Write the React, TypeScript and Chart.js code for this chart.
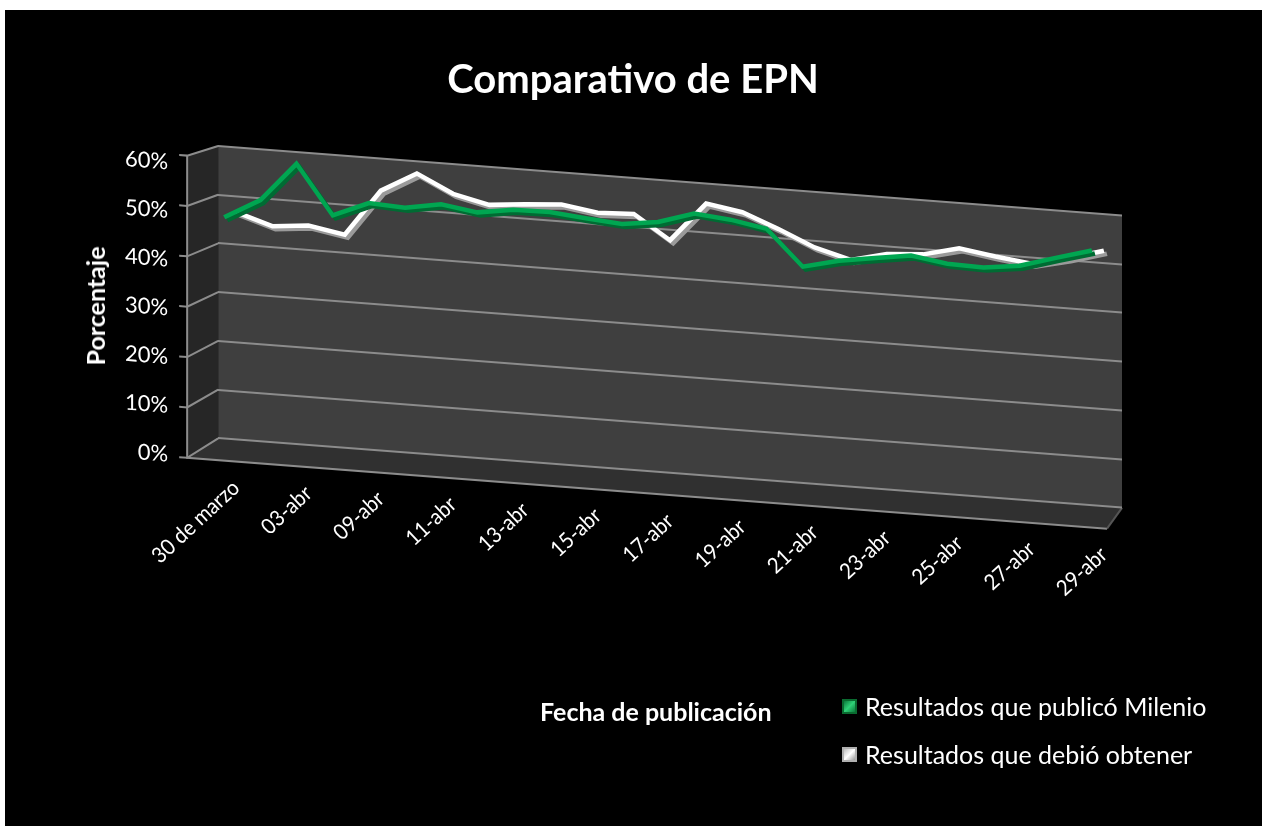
import React, { useEffect, useRef } from 'react';
import { Chart, registerables } from 'chart.js';

Chart.register(...registerables);

// ---------- data ----------
const categories = [
  '30 de marzo', '02-abr', '03-abr', '05-abr', '09-abr', '10-abr', '11-abr', '12-abr',
  '13-abr', '14-abr', '15-abr', '16-abr', '17-abr', '18-abr', '19-abr', '20-abr',
  '21-abr', '22-abr', '23-abr', '24-abr', '25-abr', '26-abr', '27-abr', '28-abr', '29-abr',
];

const milenio = [
  46.5, 50.6, 58.6, 48.6, 51.7, 51.3, 52.6, 51.5, 52.6, 52.7, 52.0, 51.4, 52.4,
  54.7, 54.0, 52.7, 45.5, 47.3, 48.4, 49.5, 48.4, 48.2, 49.1, 51.3, 53.4,
];

const debio = [
  46.7, 44.4, 45.1, 43.8, 53.4, 57.5, 53.9, 52.2, 52.9, 53.4, 52.3, 52.6, 47.8,
  55.9, 54.7, 51.8, 48.6, 46.6, 48.4, 48.9, 50.7, 49.6, 48.7, 50.4, 52.5,
];

const seriesNames = ['Resultados que publicó Milenio', 'Resultados que debió obtener'];
const seriesColors = ['#00a651', '#ffffff'];
const seriesSideColors = ['#006b33', '#9a9a9a'];

const yTicks = [0, 10, 20, 30, 40, 50, 60];
const yMin = -4.5;
const yMax = 60;

const FONT = 'Lato, "Open Sans", sans-serif';
const SKEW = 0.077;

// ---------- plugins ----------
const wallPlugin = {
  id: 'wall3d',
  beforeDraw(chart: any) {
    const { ctx, chartArea: a, scales } = chart;
    const y = scales.y;
    const L = a.left;
    const R = a.right;
    const pTop = y.getPixelForValue(yMax);
    const p0 = y.getPixelForValue(0);
    const pF = y.getPixelForValue(yMin);
    ctx.save();
    ctx.transform(1, SKEW, 0, 1, 0, -SKEW * L);

    const depthL = 31;
    const depthR = 15;
    const frontDrop = 12;
    const fx = L - depthL;
    const front = (v: number) =>
      y.getPixelForValue(v) + frontDrop + ((yMax - v) / yMax) * (pF - p0 - frontDrop);

    // back wall
    ctx.fillStyle = '#3f3f3f';
    ctx.fillRect(L, pTop, R - L, p0 - pTop);
    // floor
    ctx.fillStyle = '#303030';
    ctx.beginPath();
    ctx.moveTo(L, p0);
    ctx.lineTo(R, p0);
    ctx.lineTo(R - depthR, pF);
    ctx.lineTo(fx, pF);
    ctx.closePath();
    ctx.fill();
    // side wall
    ctx.fillStyle = '#262626';
    ctx.beginPath();
    ctx.moveTo(L, pTop);
    ctx.lineTo(L, p0);
    ctx.lineTo(fx, pF);
    ctx.lineTo(fx, front(yMax));
    ctx.closePath();
    ctx.fill();

    ctx.strokeStyle = '#8c8c8c';
    ctx.lineWidth = 2;
    yTicks.forEach((v) => {
      ctx.beginPath();
      ctx.moveTo(fx - 8, front(v));
      ctx.lineTo(fx, front(v));
      ctx.lineTo(L, y.getPixelForValue(v));
      ctx.stroke();
    });
    // front axis + floor front edge
    ctx.beginPath();
    ctx.moveTo(fx, front(yMax));
    ctx.lineTo(fx, pF);
    ctx.lineTo(R - depthR, pF);
    ctx.stroke();
    ctx.strokeStyle = '#555555';
    ctx.beginPath();
    ctx.moveTo(R - depthR, pF);
    ctx.lineTo(R, p0);
    ctx.stroke();
  },
  afterDraw(chart: any) {
    chart.ctx.restore();
  },
};

const ribbonPlugin = {
  id: 'ribbon',
  beforeDatasetDraw(chart: any, args: any) {
    const ctx = chart.ctx;
    ctx.save();
    if (args.index === 0) ctx.translate(-12, 5);
    ctx.shadowColor = seriesSideColors[args.index];
    ctx.shadowOffsetX = 3;
    ctx.shadowOffsetY = 3;
    ctx.shadowBlur = 0;
  },
  afterDatasetDraw(chart: any) {
    chart.ctx.restore();
  },
};

export default function App() {
  const ref = useRef<HTMLCanvasElement>(null);

  useEffect(() => {
    const chart = new Chart(ref.current as HTMLCanvasElement, {
      type: 'line',
      data: {
        labels: categories,
        datasets: [
          {
            label: seriesNames[0],
            data: milenio,
            borderColor: seriesColors[0],
            borderWidth: 4.5,
            pointRadius: 0,
            tension: 0,
            clip: false,
          },
          {
            label: seriesNames[1],
            data: debio,
            borderColor: seriesColors[1],
            borderWidth: 4.5,
            pointRadius: 0,
            tension: 0,
            clip: false,
          },
        ],
      },
      options: {
        animation: false,
        responsive: false,
        maintainAspectRatio: false,
        layout: { padding: { left: 118, top: 136, right: 140, bottom: 239 } },
        plugins: {
          legend: { display: false },
          title: { display: false },
          tooltip: { enabled: false },
        },
        scales: {
          x: {
            type: 'category',
            offset: true,
            grid: { display: false, drawTicks: false },
            border: { display: false },
            ticks: {
              autoSkip: false,
              maxRotation: 45,
              minRotation: 45,
              color: '#ffffff',
              padding: 14,
              font: { family: FONT, size: 21 },
              callback: (_v: any, i: number) => (i % 2 === 0 ? categories[i] : ''),
            },
          },
          y: {
            min: yMin,
            max: yMax,
            afterBuildTicks: (s: any) => {
              s.ticks = yTicks.map((v) => ({ value: v }));
            },
            grid: {
              color: '#8c8c8c',
              lineWidth: 2,
              drawTicks: true,
              tickLength: 48,
              tickColor: 'rgba(0,0,0,0)',
            },
            border: { display: false },
            ticks: {
              color: '#ffffff',
              padding: 2,
              labelOffset: 20,
              font: { family: FONT, size: 22 },
              callback: (v: any) => v + '%',
            },
            title: { display: false },
          },
        },
      },
      plugins: [wallPlugin, ribbonPlugin],
    } as any);
    return () => chart.destroy();
  }, []);

  const legendRow = (i: number, top: number) => (
    <div style={{ position: 'absolute', left: 837, top, height: 28, display: 'flex', alignItems: 'center' }}>
      <div
        style={{
          width: 11,
          height: 11,
          marginRight: 8,
          background:
            i === 0
              ? 'linear-gradient(135deg,#0b7a3b,#2fd177 50%,#0b7a3b)'
              : 'linear-gradient(135deg,#bdbdbd,#ffffff 50%,#9a9a9a)',
          border: `2px solid ${i === 0 ? '#0a6b30' : '#b0b0b0'}`,
        }}
      />
      <span style={{ fontFamily: FONT, fontSize: 25, color: '#ffffff', whiteSpace: 'nowrap' }}>
        {seriesNames[i]}
      </span>
    </div>
  );

  return (
    <div
      style={{
        position: 'absolute',
        left: 5,
        top: 10,
        width: 1257,
        height: 816,
        background: '#000000',
        overflow: 'hidden',
      }}
    >
      <canvas ref={ref} width={1257} height={816} style={{ position: 'absolute', left: 0, top: 0 }} />
      <div
        style={{
          position: 'absolute',
          left: 0,
          top: 45,
          width: 1256,
          textAlign: 'center',
          fontFamily: FONT,
          fontWeight: 'bold',
          fontSize: 40,
          lineHeight: '46px',
          color: '#ffffff',
        }}
      >
        Comparativo de EPN
      </div>
      <div
        style={{
          position: 'absolute',
          left: 90,
          top: 296,
          transform: 'translate(-50%, -50%) rotate(-90deg)',
          fontFamily: FONT,
          fontWeight: 'bold',
          fontSize: 25,
          lineHeight: '30px',
          color: '#ffffff',
          whiteSpace: 'nowrap',
        }}
      >
        Porcentaje
      </div>
      <div
        style={{
          position: 'absolute',
          left: 535,
          top: 686,
          fontFamily: FONT,
          fontWeight: 'bold',
          fontSize: 25,
          lineHeight: '30px',
          color: '#ffffff',
          whiteSpace: 'nowrap',
        }}
      >
        Fecha de publicación
      </div>
      {legendRow(0, 682)}
      {legendRow(1, 730)}
    </div>
  );
}
